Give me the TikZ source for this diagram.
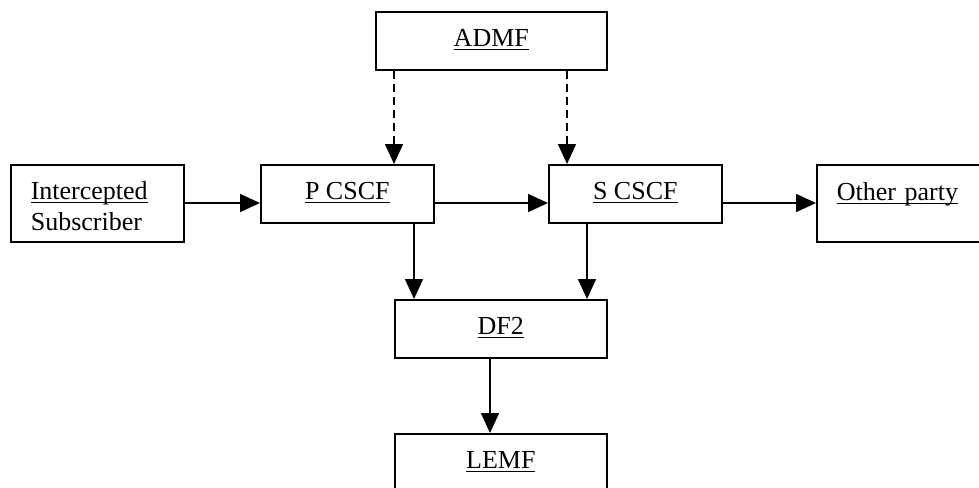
\documentclass[tikz,border=0pt]{standalone}
\usepackage{fontspec}
\setmainfont{Liberation Serif}
\usetikzlibrary{arrows.meta}
\newsavebox\ulbox
\newcommand\ulx[1]{\sbox\ulbox{#1}\rlap{\rule[-3pt]{\wd\ulbox}{1pt}}\usebox\ulbox}
\begin{document}
\begin{tikzpicture}[x=1pt,y=-1pt,
  cbox/.style={draw, line width=1.6pt, anchor=north west, inner sep=0pt,
    minimum width=#1, minimum height=58pt, text height=35pt, text depth=23pt,
    font=\fontsize{26}{31}\selectfont},
  lbox/.style={draw, line width=1.6pt, anchor=north west, inner xsep=20pt, inner ysep=0pt,
    text width=133pt, align=left, minimum height=77pt, text height=35pt, text depth=42pt,
    font=\fontsize{26}{31}\selectfont},
  arr/.style={line width=1.5pt, -{Triangle[length=20pt,width=18pt]}},
  dar/.style={arr, dash pattern=on 8pt off 5pt}]
\useasboundingbox (0,0) rectangle (979,487);
\clip (0,0) rectangle (979,487);
\node[cbox=231] (admf) at (375,11) {\ulx{ADMF}};
\node[cbox=173] (pcscf) at (260,164) {\ulx{P CSCF}};
\node[cbox=173] (scscf) at (548,164) {\ulx{S CSCF}};
\node[cbox=212] (df2) at (394,299) {\ulx{DF2}};
\node[cbox=212] (lemf) at (394,433) {\ulx{LEMF}};
\node[lbox] (int) at (10,164) {\ulx{Intercepted}\\Subscriber};
\node[lbox, text height=36pt, text depth=41pt] (oth) at (816,164) {\ulx{Other party}};
\draw[dar] ([xshift=19pt]admf.south west) -- ([xshift=134pt]pcscf.north west);
\draw[dar] ([xshift=192pt]admf.south west) -- ([xshift=19pt]scscf.north west);
\draw[arr] ([yshift=-39pt]int.north east) -- ([yshift=-39pt]pcscf.north west);
\draw[arr] ([yshift=-39pt]pcscf.north east) -- ([yshift=-39pt]scscf.north west);
\draw[arr] ([yshift=-39pt]scscf.north east) -- ([yshift=-39pt]oth.north west);
\draw[arr] ([xshift=154pt]pcscf.south west) -- ([xshift=20pt]df2.north west);
\draw[arr] ([xshift=39pt]scscf.south west) -- ([xshift=193pt]df2.north west);
\draw[arr] ([xshift=96pt]df2.south west) -- ([xshift=96pt]lemf.north west);
\end{tikzpicture}
\end{document}
